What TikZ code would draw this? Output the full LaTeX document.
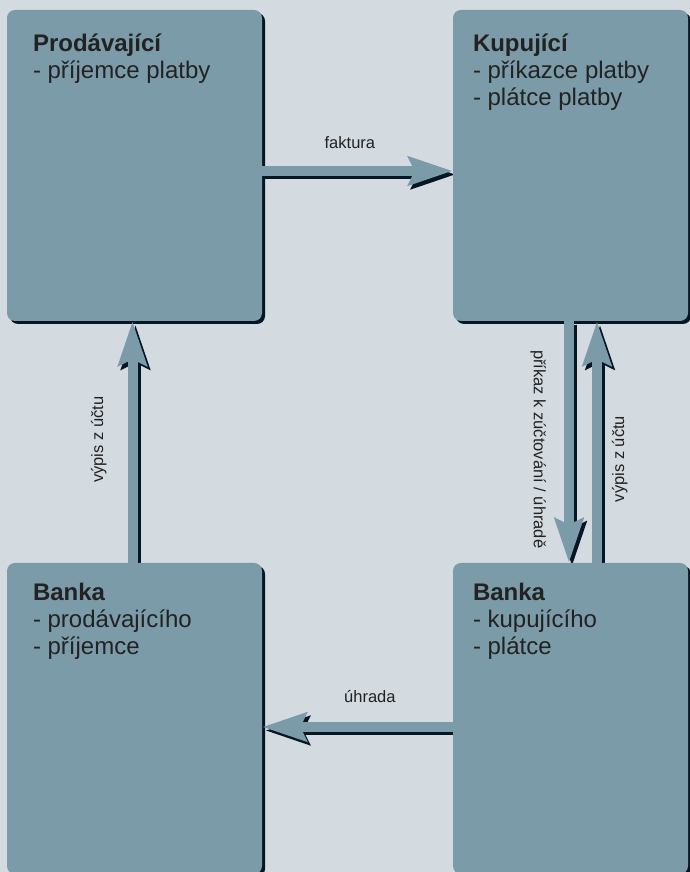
\documentclass[tikz,border=0pt]{standalone}
\usepackage{fontspec}
\setmainfont{Liberation Sans}
\usetikzlibrary{arrows.meta,shadows,positioning}

\definecolor{paper}{RGB}{211,218,224}
\definecolor{boxfill}{RGB}{123,155,169}
\definecolor{boxshadow}{RGB}{7,22,36}
\definecolor{ink}{RGB}{34,34,34}

\pgfdeclarelayer{paperlayer}
\pgfdeclarelayer{shadowlayer}
\pgfsetlayers{paperlayer,shadowlayer,main}

\tikzset{
  party/.style={rectangle, rounded corners=8pt, fill=boxfill, inner sep=0pt,
    drop shadow={shadow xshift=3pt, shadow yshift=-3pt, fill=boxshadow, opacity=1}},
  partytext/.style={anchor=base west, align=left, inner sep=0pt, text=ink,
    font=\fontsize{24}{27}\selectfont},
  flowtip/.style={line width=10pt, -{Stealth[length=44pt, width=28pt, inset=6pt]}},
  flowshadow/.style={flowtip, draw=boxshadow, transform canvas={shift={(3pt,-3.5pt)}}},
  flow/.style={flowtip, draw=boxfill},
  flowlabel/.style={inner sep=0pt, text=ink, font=\fontsize{16.5}{20}\selectfont}
}

\begin{document}
\begin{tikzpicture}[x=1pt, y=1pt]
	\useasboundingbox (0, 0) rectangle (690, 872);
	\clip (0, 0) rectangle (690, 872);
	\begin{pgfonlayer}{paperlayer}
		\fill[paper] (0, 0) rectangle (690, 872);
	\end{pgfonlayer}

	% parties
	\node[party, minimum width=255pt, minimum height=311pt] (seller) at (134.5, 706.5) {};
	\node[party, minimum width=235pt, minimum height=311pt] (buyer) at (570.5, 706.5) {};
	\node[party, minimum width=255pt, minimum height=311pt] (sellerbank) at (134.5, 153.5) {};
	\node[party, minimum width=235pt, minimum height=311pt] (buyerbank) at (570.5, 153.5) {};

	% base anchor of a multi-line node sits on its last line
	\node[partytext] (sellertext) at ([shift={(26, -69)}]seller.north west) {\textbf{Prodávající}\\- příjemce platby};
	\node[partytext] (buyertext) at ([shift={(20, -96)}]buyer.north west) {\textbf{Kupující}\\- příkazce platby\\- plátce platby};
	\node[partytext] (sellerbanktext) at ([shift={(26, -92)}]sellerbank.north west) {\textbf{Banka}\\- prodávajícího\\- příjemce};
	\node[partytext] (buyerbanktext) at ([shift={(20, -92)}]buyerbank.north west) {\textbf{Banka}\\- kupujícího\\- plátce};

	% shadows of the flows, behind the boxes
	\begin{pgfonlayer}{shadowlayer}
		\draw[flowshadow] ([yshift=-5.5pt]seller.east) -- ([yshift=-5.5pt]buyer.west);
		\draw[flowshadow] ([yshift=-8.5pt]buyerbank.west) -- ([yshift=-8.5pt]sellerbank.east);
		\draw[flowshadow] ([xshift=-2pt]sellerbank.north) -- ([xshift=-2pt]seller.south);
		\draw[flowshadow] ([xshift=-1.5pt]buyer.south) -- ([xshift=-1.5pt]buyerbank.north);
		\draw[flowshadow] ([xshift=26.5pt]buyerbank.north) -- ([xshift=26.5pt]buyer.south);
	\end{pgfonlayer}

	% flows
	\draw[flow] ([yshift=-5.5pt]seller.east) -- ([yshift=-5.5pt]buyer.west)
		node[flowlabel, pos=.46, above=17pt] {faktura};
	\draw[flow] ([yshift=-8.5pt]buyerbank.west) -- ([yshift=-8.5pt]sellerbank.east)
		node[flowlabel, pos=.435, above=19pt] {úhrada};
	\draw[flow] ([xshift=-2pt]sellerbank.north) -- ([xshift=-2pt]seller.south)
		node[flowlabel, pos=.51, rotate=90, anchor=south, inner ysep=21pt] {výpis z účtu};
	\draw[flow] ([xshift=-1.5pt]buyer.south) -- ([xshift=-1.5pt]buyerbank.north)
		node[flowlabel, pos=.53, rotate=-90, anchor=north, inner ysep=18pt] {příkaz k zúčtování / úhradě};
	\draw[flow] ([xshift=26.5pt]buyerbank.north) -- ([xshift=26.5pt]buyer.south)
		node[flowlabel, pos=.43, rotate=90, anchor=north, inner ysep=10pt] {výpis z účtu};
\end{tikzpicture}
\end{document}
